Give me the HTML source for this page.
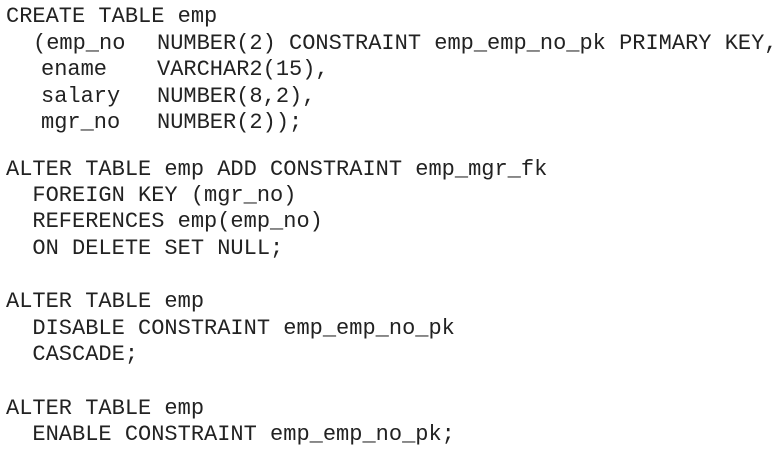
<!DOCTYPE html>
<html><head><meta charset="utf-8"><style>
html,body{margin:0;padding:0;background:#fff;width:778px;height:459px;overflow:hidden}
.l{position:absolute;font-family:"Liberation Mono","Courier New",monospace;font-size:22px;color:#222;white-space:pre;line-height:1;transform:translateY(-50%)}
</style></head><body>
<div class="l" style="left:6px;top:17px">CREATE TABLE emp</div>
<div class="l" style="left:33px;top:44px">(emp_no</div>
<div class="l" style="left:157px;top:44px">NUMBER(2) CONSTRAINT emp_emp_no_pk PRIMARY KEY,</div>
<div class="l" style="left:41px;top:70px">ename</div>
<div class="l" style="left:157px;top:70px">VARCHAR2(15),</div>
<div class="l" style="left:41px;top:97px">salary</div>
<div class="l" style="left:157px;top:97px">NUMBER(8,2),</div>
<div class="l" style="left:41px;top:123px">mgr_no</div>
<div class="l" style="left:157px;top:123px">NUMBER(2));</div>
<div class="l" style="left:6px;top:170px">ALTER TABLE emp ADD CONSTRAINT emp_mgr_fk</div>
<div class="l" style="left:6px;top:196px">  FOREIGN KEY (mgr_no)</div>
<div class="l" style="left:6px;top:222px">  REFERENCES emp(emp_no)</div>
<div class="l" style="left:6px;top:249px">  ON DELETE SET NULL;</div>
<div class="l" style="left:6px;top:302px">ALTER TABLE emp</div>
<div class="l" style="left:6px;top:329px">  DISABLE CONSTRAINT emp_emp_no_pk</div>
<div class="l" style="left:6px;top:355px">  CASCADE;</div>
<div class="l" style="left:6px;top:409px">ALTER TABLE emp</div>
<div class="l" style="left:6px;top:435px">  ENABLE CONSTRAINT emp_emp_no_pk;</div>
</body></html>
